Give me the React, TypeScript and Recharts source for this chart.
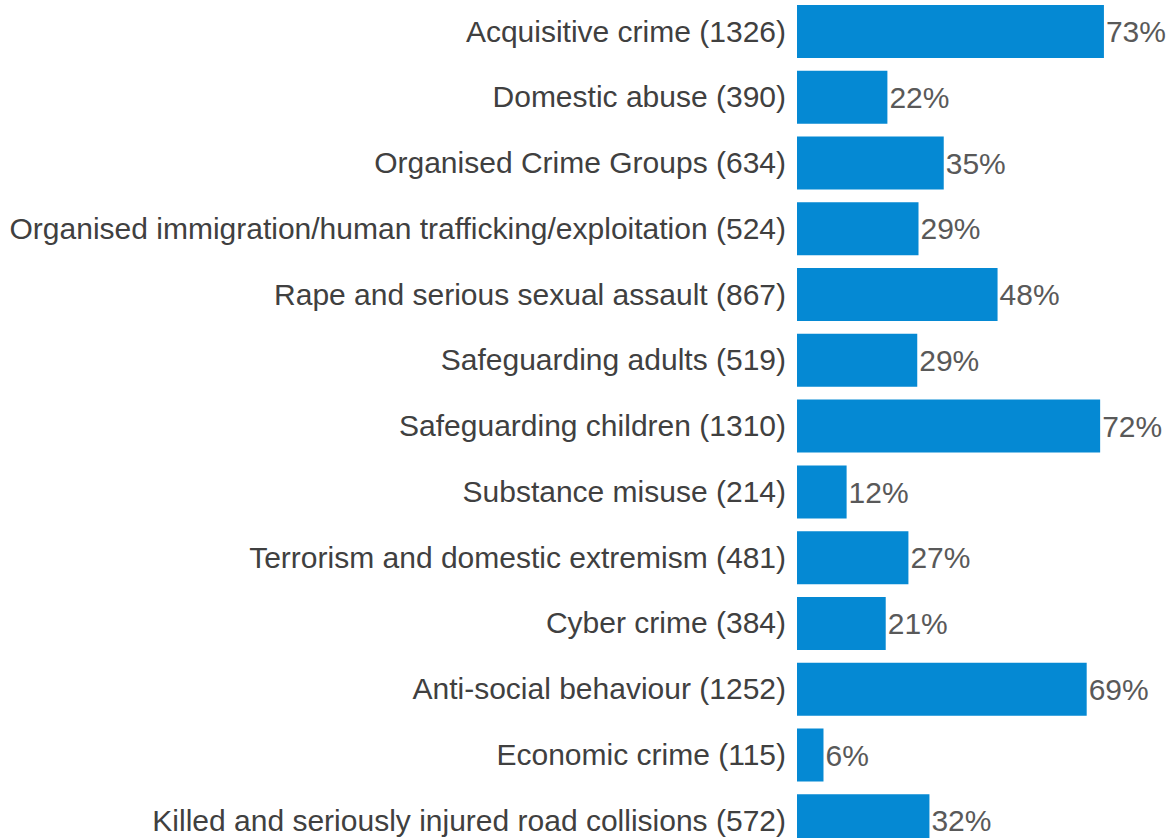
import { Bar, BarChart, LabelList, XAxis, YAxis } from "recharts"

// categories with respondent counts, share of respondents (%)
const categories = [
  "Acquisitive crime (1326)",
  "Domestic abuse (390)",
  "Organised Crime Groups (634)",
  "Organised immigration/human trafficking/exploitation (524)",
  "Rape and serious sexual assault (867)",
  "Safeguarding adults (519)",
  "Safeguarding children (1310)",
  "Substance misuse (214)",
  "Terrorism and domestic extremism (481)",
  "Cyber crime (384)",
  "Anti-social behaviour (1252)",
  "Economic crime (115)",
  "Killed and seriously injured road collisions (572)",
]

const shares = [73.0, 21.5, 34.9, 28.9, 47.7, 28.6, 72.1, 11.8, 26.5, 21.1, 68.9, 6.3, 31.5]

const data = categories.map((name, i) => ({ name, share: shares[i] }))

export default function App() {
  return (
    <div style={{ position: "absolute", left: 0, top: -1, fontFamily: "'Liberation Sans', Arial, sans-serif" }}>
      <BarChart
        width={1168}
        height={855}
        data={data}
        layout="vertical"
        margin={{ top: 0, right: 1, bottom: 0, left: 0 }}
      >
        <XAxis type="number" domain={[0, 88]} hide />
        <YAxis
          type="category"
          dataKey="name"
          width={797}
          axisLine={false}
          tickLine={false}
          tickSize={0}
          tickMargin={11}
          interval={0}
          tick={{ fill: "#404040", fontSize: 30, dy: -1 }}
        />
        <Bar dataKey="share" fill="#0589D3" barSize={53} isAnimationActive={false}>
          <LabelList
            dataKey="share"
            position="right"
            offset={2}
            formatter={(v: number) => `${Math.round(v)}%`}
            style={{ fill: "#595959", fontSize: 30 }}
          />
        </Bar>
      </BarChart>
    </div>
  )
}
